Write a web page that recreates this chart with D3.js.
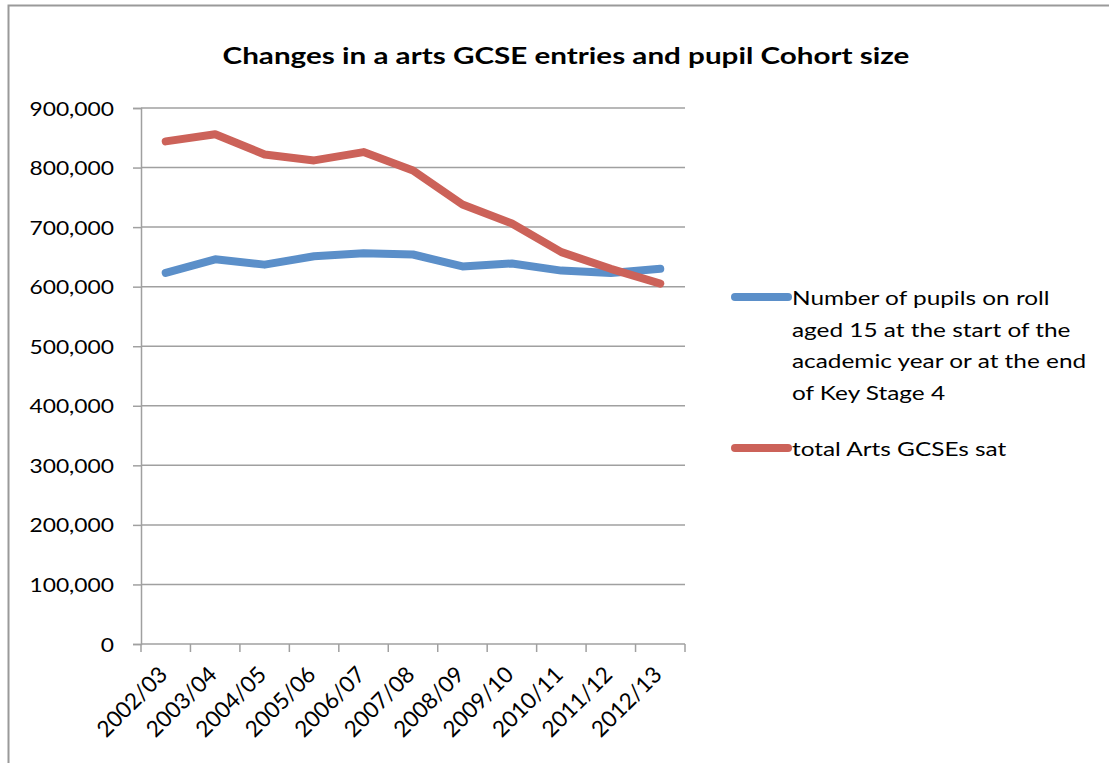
<!DOCTYPE html>
<html><head><meta charset="utf-8">
<script src="https://cdn.jsdelivr.net/npm/d3@7"></script>
<style>html,body{margin:0;padding:0;background:#fff;}svg{display:block;}</style>
</head><body>
<svg id="chart" width="1109" height="763"></svg>
<script>
const title = "Changes in a arts GCSE entries and pupil Cohort size";
const categories = ["2002/03","2003/04","2004/05","2005/06","2006/07","2007/08","2008/09","2009/10","2010/11","2011/12","2012/13"];
const pupils = [623000,646000,637000,651000,656000,654000,634000,639000,627000,623000,630000];
const artsGCSEs = [844000,856000,822000,812000,826000,795000,738000,706000,658000,630000,605000];
const yTicks = [0,100000,200000,300000,400000,500000,600000,700000,800000,900000];
const seriesNames = [
  ["Number of pupils on roll","aged 15 at the start of the","academic year or at the end","of Key Stage 4"],
  ["total Arts GCSEs sat"]
];
const colors = ["#5B8FC9","#CC6259"];

const svg = d3.select("#chart");
const font = "Lato, 'Open Sans', sans-serif";
const gridColor = "#A0A0A0";
const sx = 1.25;
const sxTick = 1.17;

// outer border
svg.append("path").attr("d","M8.5,763 L8.5,5.5 L1109,5.5").attr("fill","none").attr("stroke","#9A9A9A").attr("stroke-width",2);

const x = d3.scaleBand().domain(categories).range([141,685]);
const y = d3.scaleLinear().domain([0,900000]).range([644,108]);

// gridlines
svg.append("g").selectAll("line").data(yTicks.filter(d=>d>0)).join("line")
  .attr("x1",141).attr("x2",685).attr("y1",d=>y(d)).attr("y2",d=>y(d))
  .attr("stroke",gridColor).attr("stroke-width",1.5);

// y axis
const yAxis = d3.axisLeft(y).tickValues(yTicks).tickSize(8).tickFormat(d3.format(","));
const gy = svg.append("g").attr("transform","translate(141,0)").call(yAxis);
gy.select(".domain").attr("stroke",gridColor).attr("stroke-width",1.5);
gy.selectAll(".tick line").attr("stroke",gridColor).attr("stroke-width",1.5);
gy.selectAll("text").attr("x",null).attr("dy",null)
  .attr("transform",`translate(-27,7) scale(${sxTick},1)`)
  .attr("font-family",font).attr("font-size",19.5).attr("fill","#000");

// x axis
const edges = categories.map(c=>x(c)).concat([685]);
const gx = svg.append("g");
gx.append("line").attr("x1",141).attr("x2",685).attr("y1",644).attr("y2",644).attr("stroke",gridColor).attr("stroke-width",1.5);
gx.selectAll("line.tk").data(edges).join("line").attr("class","tk")
  .attr("x1",d=>d).attr("x2",d=>d).attr("y1",644).attr("y2",652)
  .attr("stroke",gridColor).attr("stroke-width",1.5);
gx.selectAll("text").data(categories).join("text")
  .attr("transform",d=>`translate(${x(d)+x.bandwidth()/2+3},${676}) rotate(-45)`)
  .attr("text-anchor","end").attr("font-family",font).attr("font-size",22.5).attr("fill","#000")
  .text(d=>d);

// lines
const line = d3.line().x((d,i)=>x(categories[i])+x.bandwidth()/2).y(d=>y(d));
[pupils, artsGCSEs].forEach((s,i)=>{
  svg.append("path").datum(s).attr("d",line).attr("fill","none")
    .attr("stroke",colors[i]).attr("stroke-width",8)
    .attr("stroke-linecap","round").attr("stroke-linejoin","round");
});

// title
svg.append("text").attr("transform",`translate(566,64) scale(${sx},1)`).attr("text-anchor","middle")
  .attr("font-family",font).attr("font-weight","bold").attr("font-size",23.7).attr("fill","#000")
  .text(title);

// legend
const legY = [297, 448];
seriesNames.forEach((lines,i)=>{
  svg.append("line").attr("x1",735).attr("x2",788).attr("y1",legY[i]).attr("y2",legY[i])
    .attr("stroke",colors[i]).attr("stroke-width",8).attr("stroke-linecap","round");
  lines.forEach((l,j)=>{
    svg.append("text").attr("transform",`translate(792,${legY[i]+8+j*31.7}) scale(${sx},1)`)
      .attr("font-family",font).attr("font-size",19.5).attr("fill","#000").text(l);
  });
});
</script>
</body></html>
